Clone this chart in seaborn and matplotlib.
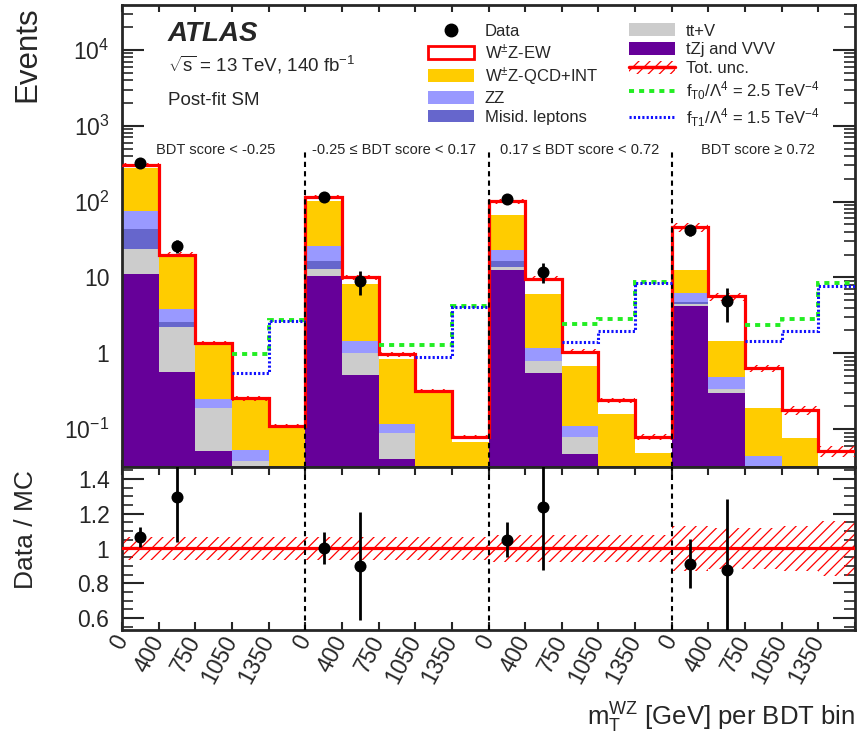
import numpy as np
import matplotlib
matplotlib.use("Agg")
import matplotlib.pyplot as plt
import matplotlib.transforms as mtransforms
from matplotlib.patches import Patch
from matplotlib.lines import Line2D
from matplotlib.ticker import (FuncFormatter, NullFormatter, FixedLocator,
                               FixedFormatter, MultipleLocator, NullLocator)
import seaborn as sns

# ---------------- data ----------------
mass_labels = ["0", "400", "750", "1050", "1350"]
region_labels = ["BDT score < -0.25", "-0.25 \u2264 BDT score < 0.17",
                 "0.17 \u2264 BDT score < 0.72", "BDT score \u2265 0.72"]
region_label_x = [2.56, 7.42, 12.5, 17.35]
region_bounds = [5, 10, 15]

tzj_vvv = [11.1, 0.573, 0.0516, 0.025, 0.01,
           10.6, 0.518, 0.041, 0.012, 0.005,
           12.7, 0.546, 0.0477, 0.01, 0.004,
           4.23, 0.296, 0.02, 0.006, 0.003]
ttv = [12.9, 1.68, 0.139, 0.0127, 0.005,
       2.3, 0.482, 0.0467, 0.005, 0.003,
       1.0, 0.254, 0.0313, 0.005, 0.002,
       0.27, 0.039, 0.005, 0.002, 0.001]
misid = [18.9, 0.37, 0, 0, 0,
         3.4, 0, 0, 0, 0,
         3.0, 0, 0, 0, 0,
         0.28, 0, 0, 0, 0]
zz = [32.1, 1.21, 0.058, 0.016, 0.01,
      9.5, 0.47, 0.0283, 0.008, 0.005,
      6.6, 0.37, 0.031, 0.01, 0.004,
      1.44, 0.147, 0.019, 0.006, 0.003]
wz_qcd = [205, 15.2, 1.05, 0.196, 0.08,
          74.9, 6.73, 0.719, 0.275, 0.055,
          42.4, 4.87, 0.57, 0.131, 0.0386,
          6.18, 0.978, 0.144, 0.0636, 0.02]
wz_ew = [24, 1.0, 0.06, 0.005, 0.006,
         14.1, 1.8, 0.135, 0.021, 0.011,
         35.9, 3.6, 0.37, 0.086, 0.0304,
         33.7, 4.16, 0.447, 0.1004, 0.0242]
nan = np.nan
data = [324, 26.0, nan, nan, nan,
        115, 9.0, nan, nan, nan,
        106.7, 11.97, nan, nan, nan,
        42.1, 4.92, nan, nan, nan]
data_err = [18, 5.2, nan, nan, nan,
            10.7, 3.1, nan, nan, nan,
            10.3, 3.5, nan, nan, nan,
            6.5, 2.3, nan, nan, nan]
eft_t0 = [nan, nan, nan, 0.97, 2.77,
          nan, nan, 1.29, 1.29, 4.15,
          nan, nan, 2.42, 2.85, 8.63,
          nan, nan, 2.38, 2.85, 8.4]
eft_t1 = [nan, nan, nan, 0.546, 2.7,
          nan, nan, nan, 0.904, 4.1,
          nan, nan, 1.43, 1.98, 8.5,
          nan, nan, 1.46, 1.95, 7.6]
rel_unc = [0.067, 0.067, 0.067, 0.067, 0.067,
           0.067, 0.067, 0.067, 0.067, 0.067,
           0.078, 0.078, 0.078, 0.078, 0.078,
           0.13, 0.12, 0.12, 0.13, 0.16]

proc_labels = ["tZj and VVV", "tt+V", "Misid. leptons", "ZZ",
               r"W$^{\pm}$Z-QCD+INT", r"W$^{\pm}$Z-EW"]
proc_colors = ["#660099", "#cccccc", "#6666cc", "#9999ff", "#ffcc00", "white"]

y_major = [0.1, 1, 10, 100, 1000, 10000]
ratio_ticks = [0.6, 0.8, 1.0, 1.2, 1.4]
ratio_tick_labels = ["0.6", "0.8", "1", "1.2", "1.4"]

# ---------------- style ----------------
sns.set_theme(style="ticks")
plt.rcParams["font.family"] = ["Liberation Sans", "DejaVu Sans"]
plt.rcParams["mathtext.fontset"] = "custom"
plt.rcParams["mathtext.rm"] = "Liberation Sans"
plt.rcParams["mathtext.it"] = "Liberation Sans:italic"
plt.rcParams["mathtext.bf"] = "Liberation Sans:bold"
plt.rcParams["mathtext.sf"] = "Liberation Sans"
plt.rcParams["hatch.linewidth"] = 0.9
plt.rcParams["axes.linewidth"] = 2.0

fig = plt.figure(figsize=(8.61, 7.38), dpi=100)
ax1 = fig.add_axes([122/861, 1-467/738, (855-122)/861, (467-5)/738])
ax2 = fig.add_axes([122/861, 1-630/738, (855-122)/861, (630-467)/738], sharex=ax1)

edges = np.arange(21)
centers = edges[:-1] + 0.5
layers = np.array([tzj_vvv, ttv, misid, zz, wz_qcd, wz_ew], dtype=float)
stack = np.cumsum(layers, axis=0)
total = stack[-1]
unc = np.array(rel_unc)

ymin, ymax = 0.0317, 3.9e4
ax1.set_yscale("log")
ax1.set_xlim(0, 20)
ax1.set_ylim(ymin, ymax)

lower = np.full(20, 1e-5)
for vals, col in zip(stack, proc_colors):
    ax1.stairs(vals, edges, baseline=lower, fill=True, color=col, linewidth=0, zorder=1)
    lower = vals

lo = total * (1 - unc)
hi = total * (1 + unc)
ax1.fill_between(edges, np.append(lo, lo[-1]), np.append(hi, hi[-1]), step="post",
                 facecolor="none", edgecolor="red", hatch="///", linewidth=0, zorder=3)
ax1.stairs(total, edges, baseline=None, color="red", linewidth=2.3, zorder=3)

ax1.stairs(np.array(eft_t0), edges, baseline=None, color="#22ee22", linewidth=2.8,
           linestyle=(0, (1.3, 1.3)), zorder=5)
ax1.stairs(np.array(eft_t1), edges, baseline=None, color="#1010ff", linewidth=2.2,
           linestyle=(0, (0.7, 0.7)), zorder=5)

for b in region_bounds:
    ax1.plot([b, b], [ymin, 500], color="black", linewidth=1.5,
             linestyle=(0, (2.5, 2)), zorder=4)
    ax2.axvline(b, color="black", linewidth=1.5, linestyle=(0, (2.5, 2)), zorder=4)

d = np.array(data)
de = np.array(data_err)
m = ~np.isnan(d)
ax1.errorbar(centers[m], d[m], yerr=de[m], fmt="none", ecolor="black", elinewidth=2.0,
             capsize=0, zorder=6)
sns.scatterplot(x=centers[m], y=d[m], ax=ax1, color="black", s=75, linewidth=0, zorder=7,
                legend=False)

blend = mtransforms.blended_transform_factory(ax1.transData, ax1.transAxes)
for xc, lab in zip(region_label_x, region_labels):
    ax1.text(xc, 0.686, lab, transform=blend, ha="center", va="center", fontsize=10.5)

# ratio panel
ratio = d / total
rerr = de / total
ax2.set_ylim(0.53, 1.47)
ax2.fill_between(edges, np.append(1 - unc, 1 - unc[-1]), np.append(1 + unc, 1 + unc[-1]),
                 step="post", facecolor="none", edgecolor="red", hatch="///", linewidth=0,
                 zorder=2)
ax2.axhline(1.0, color="red", linewidth=2.3, zorder=3)
ax2.errorbar(centers[m], ratio[m], yerr=rerr[m], fmt="none", ecolor="black",
             elinewidth=2.0, capsize=0, zorder=6)
sns.scatterplot(x=centers[m], y=ratio[m], ax=ax2, color="black", s=75, linewidth=0,
                zorder=7, legend=False)

# ticks
def yfmt(v, pos):
    e = int(round(np.log10(v)))
    if e == 0:
        return "1"
    if e == 1:
        return "10"
    return r"$10^{%d}$" % e

minor_vals = [k * 10.0**e for e in range(-2, 5) for k in range(2, 10)
              if ymin <= k * 10.0**e <= ymax]
ax1.yaxis.set_major_locator(FixedLocator(y_major))
ax1.yaxis.set_minor_locator(FixedLocator(minor_vals))
ax1.yaxis.set_major_formatter(FuncFormatter(yfmt))
ax1.yaxis.set_minor_formatter(NullFormatter())
ax1.tick_params(axis="y", which="major", direction="in", length=16, width=1.5,
                left=True, right=True, labelsize=16.5, pad=9)
ax1.tick_params(axis="y", which="minor", direction="in", length=8, width=1.2,
                left=True, right=True)
ax1.set_xticks(edges)
ax1.xaxis.set_minor_locator(NullLocator())
ax1.tick_params(axis="x", which="major", direction="in", length=5, width=1.5,
                top=True, bottom=True, labelbottom=False)

ax2.yaxis.set_major_locator(FixedLocator(ratio_ticks))
ax2.yaxis.set_major_formatter(FixedFormatter(ratio_tick_labels))
ax2.yaxis.set_minor_locator(MultipleLocator(0.05))
ax2.yaxis.set_minor_formatter(NullFormatter())
ax2.tick_params(axis="y", which="major", direction="in", length=16, width=1.5,
                left=True, right=True, labelsize=16.5, pad=9)
ax2.tick_params(axis="y", which="minor", direction="in", length=8, width=1.2,
                left=True, right=True)
ax2.set_xticks(edges)
ax2.set_xticklabels(mass_labels * 4 + [""])
ax2.tick_params(axis="x", which="major", direction="in", length=6, width=1.5,
                top=True, bottom=True, labelsize=16.5, pad=5)
plt.setp(ax2.get_xticklabels(), rotation=62, ha="right", va="center",
         rotation_mode="anchor")
for a in (ax1, ax2):
    for s in a.spines.values():
        s.set_linewidth(2.0)
    a.set_xlabel("")
    a.set_ylabel("")

# texts
fig.text(168/861, 1-40.7/738, "ATLAS", fontsize=20, fontweight="bold", fontstyle="italic",
         va="baseline")
fig.text(168/861, 1-71/738, r"$\sqrt{\mathrm{s}}$ = 13 TeV, 140 fb$^{-1}$", fontsize=13.5,
         va="baseline")
fig.text(168/861, 1-105/738, "Post-fit SM", fontsize=13.5, va="baseline")
fig.text(27/861, 1-6/738, "Events", rotation=90, ha="center", va="top", fontsize=22.5)
fig.text(26/861, 1-530/738, "Data / MC", rotation=90, ha="center", va="center", fontsize=19)
fig.text(855/861, 1-726/738, r"m$_{\mathrm{T}}^{\mathrm{WZ}}$ [GeV] per BDT bin",
         ha="right", va="baseline", fontsize=18.5)

# legend
h_data = Line2D([], [], marker="o", color="black", linestyle="none", markersize=9)
h_ew = Patch(facecolor="white", edgecolor="red", linewidth=2)
h_qcd = Patch(facecolor=proc_colors[4], linewidth=0)
h_zz = Patch(facecolor=proc_colors[3], linewidth=0)
h_mis = Patch(facecolor=proc_colors[2], linewidth=0)
h_ttv = Patch(facecolor=proc_colors[1], linewidth=0)
h_tzj = Patch(facecolor=proc_colors[0], linewidth=0)
h_unc = (Patch(facecolor="none", edgecolor="red", hatch="///", linewidth=0),
         Line2D([], [], color="red", linewidth=2.5))
h_t0 = Line2D([], [], color="#22ee22", linewidth=2.8, linestyle=(0, (1.3, 1.3)))
h_t1 = Line2D([], [], color="#1010ff", linewidth=2.2, linestyle=(0, (0.7, 0.7)))
handles = [h_data, h_ew, h_qcd, h_zz, h_mis, h_ttv, h_tzj, h_unc, h_t0, h_t1]
labels = ["Data", proc_labels[5], proc_labels[4], proc_labels[3], proc_labels[2],
          proc_labels[1], proc_labels[0], "Tot. unc.",
          r"f$_{\mathrm{T0}}/\Lambda^{4}$ = 2.5 TeV$^{-4}$",
          r"f$_{\mathrm{T1}}/\Lambda^{4}$ = 1.5 TeV$^{-4}$"]
fig.legend(handles, labels, ncol=2, loc="upper left",
           bbox_to_anchor=(428/861, 1-23.5/738), frameon=False, fontsize=12,
           borderpad=0, borderaxespad=0, handlelength=2.75, handleheight=0.78,
           handletextpad=0.66, labelspacing=0.22, columnspacing=1.85)

fig.savefig("out.png", dpi=100)
